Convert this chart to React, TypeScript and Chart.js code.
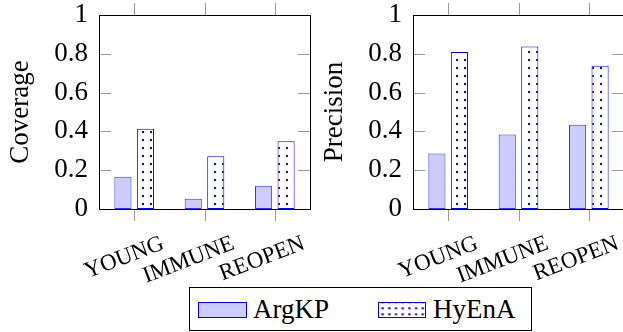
import React, { useEffect, useRef } from "react";
import { Chart, registerables } from "chart.js";

Chart.register(...registerables);

const categories = ["YOUNG", "IMMUNE", "REOPEN"];
const seriesNames = ["ArgKP", "HyEnA"];
const coverageArgKP = [0.166, 0.053, 0.12];
const coverageHyEnA = [0.414, 0.272, 0.349];
const precisionArgKP = [0.286, 0.384, 0.434];
const precisionHyEnA = [0.809, 0.838, 0.738];
const yTickValues = [0, 0.2, 0.4, 0.6, 0.8, 1];
const yTickLabels = ["0", "0.2", "0.4", "0.6", "0.8", "1"];
const panelTitles = ["Coverage", "Precision"];

const SERIF = '"Liberation Serif", "Times New Roman", serif';
const CANVAS_W = 320;
const CANVAS_H = 290;
const AREA_BOTTOM = 209;

function makeDotPattern(ctx: CanvasRenderingContext2D) {
  const c = document.createElement("canvas");
  c.width = 8;
  c.height = 8;
  const g = c.getContext("2d")!;
  g.fillStyle = "#ffffff";
  g.fillRect(0, 0, 8, 8);
  g.fillStyle = "#0000ff";
  g.fillRect(6, 3, 2, 2);
  return ctx.createPattern(c, "repeat");
}

const framePlugin = {
  id: "pgfFrame",
  afterDatasetsDraw(chart: any) {
    const { ctx, chartArea: a, scales } = chart;
    const xs = scales.x;
    const ys = scales.y;
    ctx.save();
    ctx.strokeStyle = "#9a9a9a";
    ctx.lineWidth = 1;
    ctx.beginPath();
    yTickValues.forEach((v) => {
      const py = Math.round(ys.getPixelForValue(v)) + 0.5;
      ctx.moveTo(a.left, py);
      ctx.lineTo(a.left + 12, py);
      ctx.moveTo(a.right, py);
      ctx.lineTo(a.right - 12, py);
    });
    categories.forEach((_, i) => {
      const px = Math.round(xs.getPixelForValue(i)) + 0.5;
      ctx.moveTo(px, a.top);
      ctx.lineTo(px, a.top - 12);
      ctx.moveTo(px, a.bottom);
      ctx.lineTo(px, a.bottom + 12);
    });
    ctx.stroke();
    ctx.strokeStyle = "#000000";
    ctx.lineWidth = 1;
    ctx.strokeRect(
      Math.round(a.left) + 0.5,
      Math.round(a.top) + 0.5,
      Math.round(a.right - a.left),
      Math.round(a.bottom - a.top)
    );
    ctx.restore();
  },
};

function Panel(props: { left: number; title: string; argkp: number[]; hyena: number[] }) {
  const ref = useRef<HTMLCanvasElement | null>(null);
  useEffect(() => {
    let chart: Chart | null = null;
    let cancelled = false;
    const build = () => {
      if (cancelled) return;
      const canvas = ref.current!;
      const ctx = canvas.getContext("2d")!;
      const pattern = makeDotPattern(ctx);
      chart = new Chart(canvas, {
        type: "bar",
        data: {
          labels: categories,
          datasets: [
            {
              label: seriesNames[0],
              data: props.argkp,
              backgroundColor: "#ccccff",
              borderColor: "#3030ff",
              borderWidth: 1,
              borderSkipped: false,
            },
            {
              label: seriesNames[1],
              data: props.hyena,
              backgroundColor: pattern as any,
              borderColor: "#0000ff",
              borderWidth: 1,
              borderSkipped: false,
            },
          ],
        },
        options: {
          responsive: false,
          animation: false,
          devicePixelRatio: 1,
          layout: { padding: { top: 15, right: 10, left: 0, bottom: 0 }, autoPadding: false },
          datasets: { bar: { categoryPercentage: 0.64, barPercentage: 0.76 } },
          plugins: { legend: { display: false }, tooltip: { enabled: false } },
          scales: {
            x: {
              grid: { display: false, drawTicks: false },
              border: { display: false },
              ticks: {
                autoSkip: false,
                minRotation: 21,
                maxRotation: 21,
                padding: 21,
                labelOffset: 29,
                color: "#000000",
                font: { family: SERIF, size: 23 },
              },
              afterFit: (s: any) => {
                s.height = CANVAS_H - AREA_BOTTOM;
                s.paddingLeft = 0;
                s.paddingRight = 0;
                s.paddingTop = 0;
                s.paddingBottom = 0;
              },
            },
            y: {
              min: 0,
              max: 1,
              grid: { display: false, drawTicks: false },
              border: { display: false },
              afterBuildTicks: (s: any) => {
                s.ticks = yTickValues.map((v) => ({ value: v }));
              },
              ticks: {
                padding: 11,
                color: "#000000",
                font: { family: SERIF, size: 27 },
                callback: (_v: any, i: number) => yTickLabels[i],
              },
              title: {
                display: true,
                text: props.title,
                color: "#000000",
                font: { family: SERIF, size: 27 },
                padding: { top: 5, bottom: 0 },
              },
              afterFit: (s: any) => {
                s.width = 99;
                s.paddingLeft = 0;
                s.paddingRight = 0;
                s.paddingTop = 0;
                s.paddingBottom = 0;
              },
            },
          },
        } as any,
        plugins: [framePlugin],
      });
    };
    const fonts: any = (document as any).fonts;
    if (fonts && fonts.load) {
      Promise.all([
        fonts.load('27px "Liberation Serif"'),
        fonts.load('23px "Liberation Serif"'),
      ])
        .catch(() => null)
        .then(build);
    } else {
      build();
    }
    return () => {
      cancelled = true;
      if (chart) chart.destroy();
    };
  }, []);
  return (
    <canvas
      ref={ref}
      width={CANVAS_W}
      height={CANVAS_H}
      style={{ position: "absolute", left: props.left, top: 0, width: CANVAS_W, height: CANVAS_H }}
    />
  );
}

function Legend() {
  const text: React.CSSProperties = {
    position: "absolute",
    top: 8,
    fontFamily: SERIF,
    fontSize: 27,
    lineHeight: "27px",
    color: "#000",
    whiteSpace: "nowrap",
  };
  return (
    <div
      style={{
        position: "absolute",
        left: 189,
        top: 287,
        width: 343,
        height: 44,
        boxSizing: "border-box",
        border: "1px solid #000",
        background: "#fff",
      }}
    >
      <div
        style={{
          position: "absolute",
          left: 8,
          top: 14,
          width: 49,
          height: 16,
          boxSizing: "border-box",
          border: "1px solid #0000ff",
          background: "#ccccff",
        }}
      />
      <span style={{ ...text, left: 63 }}>{seriesNames[0]}</span>
      <div
        style={{
          position: "absolute",
          left: 188,
          top: 14,
          width: 48,
          height: 16,
          boxSizing: "border-box",
          border: "1px solid #0000ff",
          backgroundColor: "#fff",
          backgroundImage: "radial-gradient(circle, #0000ff 0.9px, rgba(0,0,255,0) 1.4px)",
          backgroundSize: "6.7px 6px",
          backgroundPosition: "0.3px 2.3px",
        }}
      />
      <span style={{ ...text, left: 243 }}>{seriesNames[1]}</span>
    </div>
  );
}

export default function App() {
  return (
    <div
      style={{
        position: "absolute",
        left: 0,
        top: 0,
        width: 623,
        height: 332,
        overflow: "hidden",
        background: "#fff",
      }}
    >
      <Panel left={0} title={panelTitles[0]} argkp={coverageArgKP} hyena={coverageHyEnA} />
      <Panel left={314} title={panelTitles[1]} argkp={precisionArgKP} hyena={precisionHyEnA} />
      <Legend />
    </div>
  );
}
